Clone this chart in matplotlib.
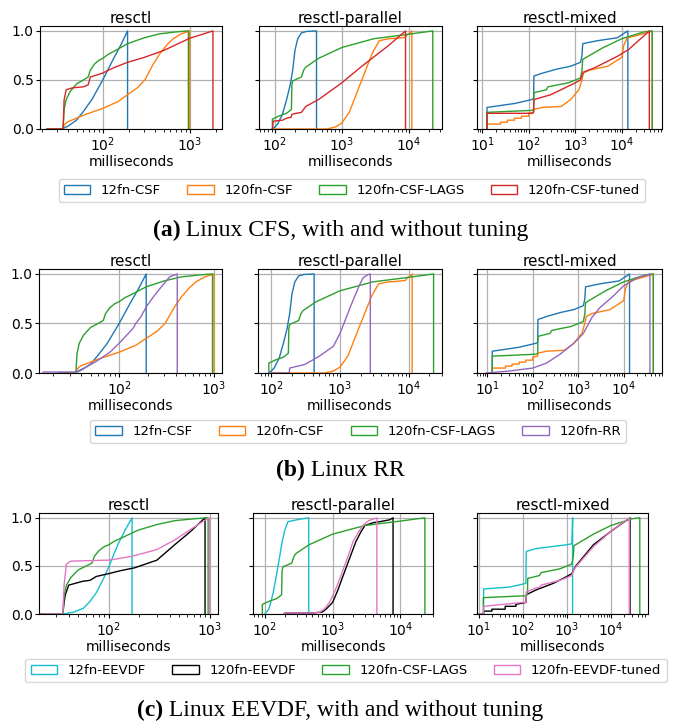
import matplotlib
matplotlib.use("Agg")
import matplotlib.pyplot as plt
from matplotlib.patches import Patch
from matplotlib.offsetbox import TextArea, HPacker, AnchoredOffsetbox

# ---------------- data ----------------
# 12fn-CSF
csf12_resctl_x = [23, 34, 40, 50, 60, 75, 100, 130, 160, 193, 193]
csf12_resctl_y = [0, 0, 0.03, 0.09, 0.18, 0.3, 0.5, 0.7, 0.85, 1.0, 0]
csf12_par_x = [92, 100, 110, 130, 150, 170, 185, 200, 220, 250, 300, 420, 420]
csf12_par_y = [0, 0.02, 0.05, 0.15, 0.3, 0.45, 0.6, 0.8, 0.92, 0.98, 0.995, 1.0, 0]
csf12_mix_x = [12.8, 12.8, 50, 117, 128, 130, 200, 400, 800, 1300, 1400, 1450, 3000, 8000, 13500, 13500]
csf12_mix_y = [0, 0.22, 0.26, 0.3, 0.31, 0.54, 0.57, 0.61, 0.64, 0.68, 0.75, 0.87, 0.9, 0.93, 1.0, 0]

# 120fn-CSF
csf120_resctl_x = [23, 35, 36, 39, 50, 60, 80, 100, 150, 193, 250, 305, 380, 455, 550, 645, 800, 1000, 1000]
csf120_resctl_y = [0, 0, 0.04, 0.07, 0.11, 0.14, 0.18, 0.21, 0.28, 0.35, 0.42, 0.5, 0.66, 0.77, 0.86, 0.92, 0.97, 1.0, 0]
csf120_par_x = [92, 600, 800, 1000, 1300, 1600, 2000, 2500, 2900, 3640, 5000, 6600, 9000, 9500, 10500, 11200, 11200]
csf120_par_y = [0, 0, 0.02, 0.06, 0.17, 0.33, 0.5, 0.67, 0.78, 0.9, 0.92, 0.925, 0.935, 0.96, 0.98, 1.0, 0]
csf120_mix_x = [12.8, 12.8, 25, 25, 35, 35, 50, 50, 70, 70, 100, 100, 128, 130, 200, 500, 800, 1200, 1400,
                1500, 2000, 5000, 10000, 11000, 13000, 20000, 40000, 45000, 45000]
csf120_mix_y = [0, 0.05, 0.05, 0.07, 0.07, 0.09, 0.09, 0.11, 0.11, 0.13, 0.13, 0.16, 0.17, 0.2, 0.22, 0.23, 0.3,
                0.4, 0.5, 0.57, 0.6, 0.64, 0.73, 0.85, 0.93, 0.95, 0.99, 1.0, 0]

# 120fn-CSF-LAGS
lags_resctl_x = [23, 35, 36, 38, 42, 50, 60, 68, 72, 80, 90, 100, 115, 140, 193, 300, 450, 700, 965, 965]
lags_resctl_y = [0, 0, 0.2, 0.3, 0.38, 0.46, 0.5, 0.53, 0.6, 0.66, 0.7, 0.72, 0.76, 0.8, 0.87, 0.93, 0.97, 0.99, 1.0, 0]
lags_par_x = [92, 92, 118, 150, 177, 180, 185, 250, 270, 290, 450, 1000, 3000, 10000, 23000, 23000]
lags_par_y = [0, 0.1, 0.135, 0.16, 0.2, 0.45, 0.49, 0.53, 0.6, 0.63, 0.72, 0.83, 0.92, 0.966, 1.0, 0]
lags_mix_x = [12.8, 12.8, 120, 128, 130, 240, 260, 700, 1300, 1400, 1450, 4000, 10000, 30000, 45000, 45000]
lags_mix_y = [0, 0.17, 0.19, 0.2, 0.37, 0.4, 0.43, 0.47, 0.52, 0.6, 0.71, 0.83, 0.92, 0.99, 1.0, 0]

# 120fn-CSF-tuned
tuned_resctl_x = [23, 35, 36, 38, 45, 60, 68, 72, 85, 100, 130, 193, 300, 500, 1000, 1850, 1850]
tuned_resctl_y = [0, 0, 0.3, 0.4, 0.42, 0.43, 0.45, 0.53, 0.55, 0.57, 0.62, 0.68, 0.73, 0.8, 0.925, 1.0, 0]
tuned_par_x = [92, 95, 130, 150, 175, 180, 250, 270, 290, 450, 1000, 2000, 5000, 9000, 9000]
tuned_par_y = [0, 0.08, 0.09, 0.11, 0.12, 0.15, 0.17, 0.2, 0.23, 0.3, 0.47, 0.64, 0.85, 1.0, 0]
tuned_mix_x = [12.8, 12.8, 120, 128, 130, 300, 1000, 1300, 1400, 1500, 2500, 8000, 14000, 39000, 39000]
tuned_mix_y = [0, 0.16, 0.16, 0.17, 0.3, 0.35, 0.47, 0.5, 0.55, 0.58, 0.62, 0.74, 0.81, 1.0, 0]

# 120fn-RR
rr_resctl_x = [15.5, 16, 35, 45, 58, 80, 100, 140, 150, 170, 194, 230, 268, 340, 410, 410]
rr_resctl_y = [0, 0.01, 0.01, 0.06, 0.12, 0.21, 0.3, 0.45, 0.5, 0.57, 0.67, 0.77, 0.85, 0.97, 1.0, 0]
rr_par_x = [92, 182, 185, 305, 500, 800, 1000, 1170, 1400, 1650, 1900, 2160, 2500, 2760, 2760]
rr_par_y = [0, 0, 0.05, 0.085, 0.17, 0.27, 0.4, 0.52, 0.66, 0.78, 0.88, 0.96, 0.99, 1.0, 0]
rr_mix_x = [9.5, 30, 100, 200, 400, 800, 1300, 2000, 3000, 6000, 10000, 20000, 38000, 38000]
rr_mix_y = [0, 0.02, 0.05, 0.1, 0.19, 0.3, 0.4, 0.56, 0.66, 0.78, 0.88, 0.96, 1.0, 0]

# 12fn-EEVDF
e12_resctl_x = [20.3, 35, 45, 56, 65, 75, 87, 100, 112, 124, 137, 150, 170, 170]
e12_resctl_y = [0, 0, 0.02, 0.06, 0.13, 0.22, 0.35, 0.49, 0.62, 0.73, 0.82, 0.9, 1.0, 0]
e12_par_x = [100, 115, 133, 150, 166, 180, 197, 220, 300, 445, 445]
e12_par_y = [0, 0.05, 0.22, 0.42, 0.6, 0.75, 0.87, 0.96, 0.98, 1.0, 0]
e12_mix_x = [11.9, 13, 13, 50, 100, 118, 120, 200, 1000, 1300, 1350, 1350]
e12_mix_y = [0, 0, 0.26, 0.28, 0.31, 0.32, 0.65, 0.68, 0.72, 0.73, 1.0, 0]

# 120fn-EEVDF
e120_resctl_x = [20.3, 35, 36, 37, 40, 55, 65, 70, 75, 100, 130, 180, 300, 450, 650, 800, 900, 900]
e120_resctl_y = [0, 0, 0.12, 0.2, 0.3, 0.34, 0.35, 0.37, 0.39, 0.42, 0.45, 0.48, 0.56, 0.72, 0.86, 0.95, 1.0, 0]
e120_par_x = [190, 200, 500, 700, 800, 1000, 1200, 1400, 1600, 1900, 2200, 2600, 3000, 4000, 5000, 7000, 7800, 7800]
e120_par_y = [0, 0.01, 0.01, 0.02, 0.05, 0.12, 0.25, 0.38, 0.49, 0.63, 0.75, 0.85, 0.92, 0.95, 0.96, 0.98, 1.0, 0]
e120_mix_x = [9.5, 13, 13, 20, 20, 40, 40, 70, 70, 118, 120, 200, 500, 1000, 1300, 1600, 4000, 10000, 27000, 27000]
e120_mix_y = [0, 0, 0.03, 0.03, 0.05, 0.05, 0.08, 0.08, 0.1, 0.12, 0.2, 0.25, 0.32, 0.39, 0.42, 0.5, 0.72, 0.86, 1.0, 0]

# 120fn-EEVDF-tuned
etuned_resctl_x = [20.3, 35, 36, 38, 42, 100, 170, 300, 450, 650, 850, 1000, 1000]
etuned_resctl_y = [0, 0, 0.3, 0.52, 0.55, 0.56, 0.6, 0.67, 0.77, 0.88, 0.96, 1.0, 0]
etuned_par_x = [190, 200, 500, 650, 750, 900, 1100, 1300, 1500, 1750, 2000, 2400, 2800, 3400, 4500, 4500]
etuned_par_y = [0, 0.01, 0.01, 0.02, 0.05, 0.12, 0.25, 0.38, 0.5, 0.63, 0.75, 0.85, 0.92, 0.97, 1.0, 0]
etuned_mix_x = [9.5, 13, 13, 100, 118, 120, 200, 250, 260, 700, 1300, 1400, 1600, 4000, 10000, 26000, 26000]
etuned_mix_y = [0, 0, 0.08, 0.12, 0.12, 0.23, 0.27, 0.28, 0.3, 0.35, 0.4, 0.45, 0.49, 0.7, 0.86, 1.0, 0]

panel_titles = ["resctl", "resctl-parallel", "resctl-mixed"]
legend_a = ["12fn-CSF", "120fn-CSF", "120fn-CSF-LAGS", "120fn-CSF-tuned"]
legend_b = ["12fn-CSF", "120fn-CSF", "120fn-CSF-LAGS", "120fn-RR"]
legend_c = ["12fn-EEVDF", "120fn-EEVDF", "120fn-CSF-LAGS", "120fn-EEVDF-tuned"]
captions = [("(a)", " Linux CFS, with and without tuning"),
            ("(b)", " Linux RR"),
            ("(c)", " Linux EEVDF, with and without tuning")]

# ---------------- styling / layout ----------------
BLUE, ORANGE, GREEN, RED = "#1f77b4", "#ff7f0e", "#2ca02c", "#d62728"
PURPLE, CYAN, PINK, BLACK = "#9467bd", "#17becf", "#e377c2", "black"

W, H = 681, 725
fig = plt.figure(figsize=(W / 100, H / 100), dpi=100)

rows = [
    dict(top=26, bottom=129, cols=[(40, 222), (259, 442), (477, 662)],
         xlims=[(19, 2350), (58, 31600), (7.8, 73000)],
         series=[
             (BLUE, [(csf12_resctl_x, csf12_resctl_y), (csf12_par_x, csf12_par_y), (csf12_mix_x, csf12_mix_y)]),
             (ORANGE, [(csf120_resctl_x, csf120_resctl_y), (csf120_par_x, csf120_par_y), (csf120_mix_x, csf120_mix_y)]),
             (GREEN, [(lags_resctl_x, lags_resctl_y), (lags_par_x, lags_par_y), (lags_mix_x, lags_mix_y)]),
             (RED, [(tuned_resctl_x, tuned_resctl_y), (tuned_par_x, tuned_par_y), (tuned_mix_x, tuned_mix_y)]),
         ],
         labels=legend_a, leg_cx=352, leg_top=172, cap_y=230),
    dict(top=269, bottom=373, cols=[(39, 222), (258, 442), (477, 662)],
         xlims=[(14.3, 1215), (64, 30500), (5.9, 70000)],
         series=[
             (BLUE, [(csf12_resctl_x, csf12_resctl_y), (csf12_par_x, csf12_par_y), (csf12_mix_x, csf12_mix_y)]),
             (ORANGE, [(csf120_resctl_x, csf120_resctl_y), (csf120_par_x, csf120_par_y), (csf120_mix_x, csf120_mix_y)]),
             (GREEN, [(lags_resctl_x, lags_resctl_y), (lags_par_x, lags_par_y), (lags_mix_x, lags_mix_y)]),
             (PURPLE, [(rr_resctl_x, rr_resctl_y), (rr_par_x, rr_par_y), (rr_mix_x, rr_mix_y)]),
         ],
         labels=legend_b, leg_cx=358, leg_top=413, cap_y=470),
    dict(top=513, bottom=614, cols=[(39, 218), (253, 433), (477, 648)],
         xlims=[(20.3, 1210), (67, 30300), (9.2, 69000)],
         series=[
             (CYAN, [(e12_resctl_x, e12_resctl_y), (e12_par_x, e12_par_y), (e12_mix_x, e12_mix_y)]),
             (BLACK, [(e120_resctl_x, e120_resctl_y), (e120_par_x, e120_par_y), (e120_mix_x, e120_mix_y)]),
             (GREEN, [(lags_resctl_x, lags_resctl_y), (lags_par_x, lags_par_y), (lags_mix_x, lags_mix_y)]),
             (PINK, [(etuned_resctl_x, etuned_resctl_y), (etuned_par_x, etuned_par_y), (etuned_mix_x, etuned_mix_y)]),
         ],
         labels=legend_c, leg_cx=346, leg_top=652, cap_y=710),
]

for ri, row in enumerate(rows):
    for ci, (l, r) in enumerate(row["cols"]):
        ax = fig.add_axes([l / W, 1 - row["bottom"] / H, (r - l) / W, (row["bottom"] - row["top"]) / H])
        ax.set_xscale("log")
        for color, data in row["series"]:
            xs, ys = data[ci]
            ax.plot(xs, ys, color=color, lw=1.0)
        ax.set_xlim(*row["xlims"][ci])
        ax.set_ylim(0, 1.05)
        ax.set_yticks([0.0, 0.5, 1.0])
        if ci == 0:
            ax.set_yticklabels(["0.0", "0.5", "1.0"])
        else:
            ax.set_yticklabels([])
        ax.grid(True, which="major", color="#b0b0b0", lw=0.9)
        ax.set_axisbelow(True)
        ax.tick_params(axis="both", which="major", labelsize=10, length=3, pad=1.5)
        ax.tick_params(axis="x", which="minor", length=2)
        ax.set_title(panel_titles[ci], fontsize=11, pad=2.5)
        ax.set_xlabel("milliseconds", fontsize=10, labelpad=1)

    handles = [Patch(facecolor="none", edgecolor=c, lw=1.0) for c, _ in row["series"]]
    fig.legend(handles, row["labels"], ncol=4, fontsize=9.5, loc="upper center",
               bbox_to_anchor=(row["leg_cx"] / W, 1 - row["leg_top"] / H),
               handlelength=2.0, columnspacing=2.0, borderpad=0.4)

    tag, rest = captions[ri]
    box = HPacker(children=[
        TextArea(tag, textprops=dict(fontsize=17, fontweight="bold", family="Liberation Serif")),
        TextArea(rest, textprops=dict(fontsize=17, family="Liberation Serif")),
    ], align="baseline", pad=0, sep=0)
    ab = AnchoredOffsetbox(loc="center", child=box, frameon=False, pad=0, borderpad=0,
                           bbox_to_anchor=(0.5, 1 - row["cap_y"] / H), bbox_transform=fig.transFigure)
    fig.add_artist(ab)

fig.savefig("out.png", dpi=100)
